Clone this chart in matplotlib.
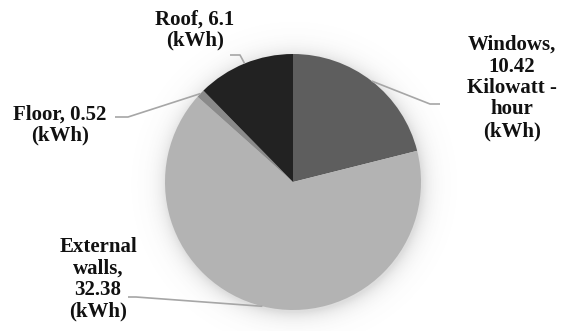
import numpy as np
import matplotlib
matplotlib.use("Agg")
import matplotlib.pyplot as plt

categories = ["Windows", "External walls", "Floor", "Roof"]
values = [10.42, 32.38, 0.52, 6.1]
labels = ["Windows,\n10.42\nKilowatt -\nhour\n(kWh)",
          "External\nwalls,\n32.38\n(kWh)",
          "Floor, 0.52\n(kWh)",
          "Roof, 6.1\n(kWh)"]
colors = ["#5e5e5e", "#b3b3b3", "#8a8a8a", "#222222"]

W, H = 563, 331
cx, cy, R = 293, 182, 128

fig = plt.figure(figsize=(W / 100, H / 100), dpi=100)
ax = fig.add_axes([0, 0, 1, 1])

def px(x, y):
    return (x - cx) / R, (cy - y) / R

# soft shadow glow
xs = np.linspace(-cx / R, (W - cx) / R, 600)
ys = np.linspace((cy - H) / R, cy / R, 360)
X, Y = np.meshgrid(xs, ys)
rr = np.hypot(X - 0.01, Y + 0.02)
alpha = np.where(rr > 0.98, 0.2 * np.exp(-np.clip(rr - 1.0, 0, None) / 0.07), 0.2)
img = np.zeros(X.shape + (4,))
img[..., :3] = 0.35
img[..., 3] = alpha
ax.imshow(img, extent=(xs[0], xs[-1], ys[0], ys[-1]), origin="lower", zorder=0, interpolation="bilinear")

wedges, _ = ax.pie(values, colors=colors, startangle=90, counterclock=False,
                   radius=1.0, wedgeprops=dict(linewidth=0), frame=True)
for w in wedges:
    w.set_zorder(2)
ax.set_xlim(-cx / R, (W - cx) / R)
ax.set_ylim((cy - H) / R, cy / R)
ax.set_aspect("equal")
ax.axis("off")

# label layout (pixel coordinates): text center, elbow, end of leader
layout = {
    "Windows": dict(text=(512, 88), elbow=(430, 104), end=(440, 104)),
    "External walls": dict(text=(98, 279), elbow=(136, 297), end=(128, 297)),
    "Floor": dict(text=(60, 125), elbow=(128, 117), end=(115, 117)),
    "Roof": dict(text=(195, 30), elbow=(240, 55), end=(230, 55)),
}

for w, cat, lab in zip(wedges, categories, labels):
    ang = np.deg2rad((w.theta1 + w.theta2) / 2)
    ex, ey = np.cos(ang), np.sin(ang)
    L = layout[cat]
    bx, by = px(*L["elbow"])
    qx, qy = px(*L["end"])
    ax.plot([ex, bx, qx], [ey, by, qy], color="#a6a6a6", lw=1.2, zorder=3,
            solid_capstyle="butt")
    tx, ty = px(*L["text"])
    ax.text(tx, ty, lab, ha="center", va="center", multialignment="center",
            fontsize=15, fontweight="bold", family="Liberation Serif",
            color="#111111", linespacing=1.1, zorder=4)

fig.savefig("out.png", dpi=100, facecolor="white")
